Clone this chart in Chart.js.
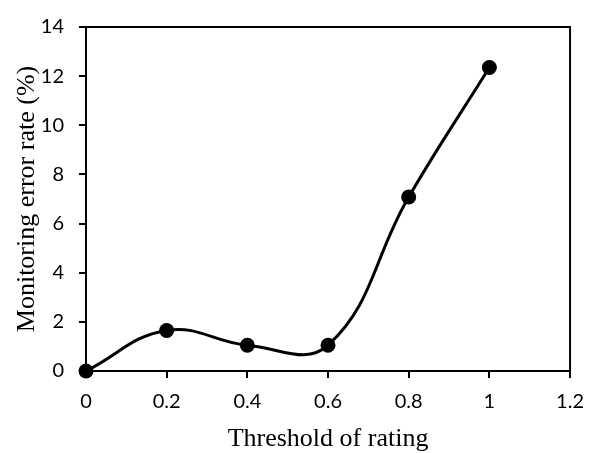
<!DOCTYPE html>
<html>
<head>
<meta charset="utf-8">
<script src="https://cdn.jsdelivr.net/npm/chart.js@4/dist/chart.umd.min.js"></script>
<style>
  html, body { margin: 0; padding: 0; background: #fff; }
  #wrap { width: 596px; height: 453px; }
</style>
</head>
<body>
<div id="wrap"><canvas id="chart" width="596" height="453"></canvas></div>
<script>
// data
const thresholds = [0, 0.2, 0.4, 0.6, 0.8, 1];
const errorRates = [0, 1.65, 1.05, 1.05, 7.08, 12.35];
const xTickValues = [0, 0.2, 0.4, 0.6, 0.8, 1, 1.2];
const yTickValues = [0, 2, 4, 6, 8, 10, 12, 14];

const tickFont = { family: "Lato, 'Open Sans', sans-serif", size: 20 };
const titleFont = { family: "'Liberation Serif', 'Times New Roman', serif", size: 26 };

// top and right frame lines of the plot box
const frameBox = {
    id: "frameBox",
    beforeDatasetsDraw(chart) {
        const { ctx, chartArea } = chart;
        ctx.save();
        ctx.strokeStyle = "#000";
        ctx.lineWidth = 2;
        ctx.beginPath();
        ctx.moveTo(chartArea.left, chartArea.top);
        ctx.lineTo(chartArea.right, chartArea.top);
        ctx.lineTo(chartArea.right, chartArea.bottom);
        ctx.stroke();
        ctx.restore();
    }
};

new Chart(document.getElementById("chart"), {
    type: "line",
    data: {
        datasets: [{
            data: thresholds.map((x, i) => ({ x: x, y: errorRates[i] })),
            borderColor: "#000",
            backgroundColor: "#000",
            borderWidth: 3,
            pointRadius: 7.5,
            pointHoverRadius: 7.5,
            pointBackgroundColor: "#000",
            pointBorderWidth: 0,
            tension: 0.42,
            fill: false,
            clip: false
        }]
    },
    options: {
        responsive: false,
        animation: false,
        events: [],
        layout: { padding: { top: 21, right: 23, left: 0, bottom: 0 } },
        plugins: { legend: { display: false }, tooltip: { enabled: false } },
        scales: {
            x: {
                type: "linear",
                min: 0,
                max: 1.2,
                afterBuildTicks: scale => { scale.ticks = xTickValues.map(v => ({ value: v })); },
                afterFit: scale => { scale.height = 82; },
                ticks: {
                    color: "#000",
                    font: tickFont,
                    padding: 12,
                    maxRotation: 0,
                    callback: v => String(v)
                },
                grid: { drawOnChartArea: false, drawTicks: true, tickLength: 7, color: "#000", lineWidth: 2 },
                border: { display: true, color: "#000", width: 2 },
                title: { display: true, text: "Threshold of rating", color: "#000", font: titleFont, padding: { top: 0, bottom: -2 } }
            },
            y: {
                type: "linear",
                min: 0,
                max: 14,
                afterBuildTicks: scale => { scale.ticks = yTickValues.map(v => ({ value: v })); },
                afterFit: scale => { scale.width = 86; },
                ticks: {
                    color: "#000",
                    font: tickFont,
                    padding: 15,
                    callback: v => String(v)
                },
                grid: { drawOnChartArea: false, drawTicks: true, tickLength: 7, color: "#000", lineWidth: 2 },
                border: { display: true, color: "#000", width: 2 },
                title: { display: true, text: "Monitoring error rate (%)", color: "#000", font: titleFont, padding: { top: 12, bottom: 0 } }
            }
        }
    },
    plugins: [frameBox]
});
</script>
</body>
</html>
